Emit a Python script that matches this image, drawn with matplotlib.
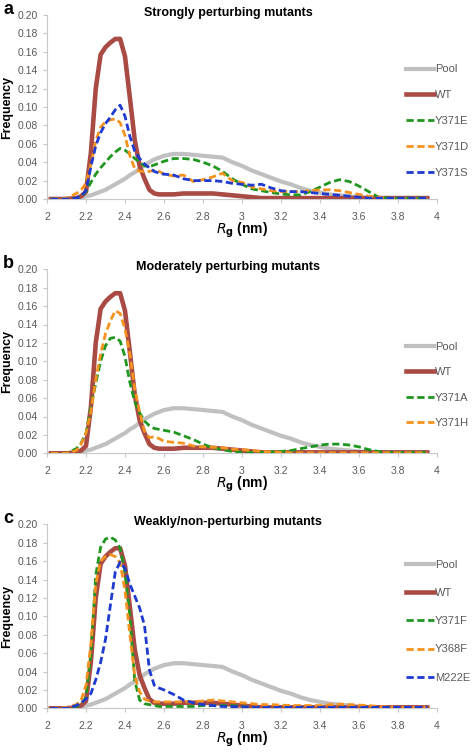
import matplotlib
matplotlib.use("Agg")
import matplotlib.pyplot as plt
import numpy as np

plt.rcParams['font.family'] = ['Liberation Sans', 'DejaVu Sans']

# common Rg grid (nm)
rg = [2.02, 2.10, 2.15, 2.175, 2.20, 2.225, 2.25, 2.275, 2.30, 2.325, 2.35, 2.375,
      2.40, 2.425, 2.45, 2.475, 2.50, 2.525, 2.55, 2.575, 2.60, 2.65, 2.70, 2.75,
      2.80, 2.85, 2.90, 2.95, 3.00, 3.05, 3.10, 3.15, 3.20, 3.25, 3.30, 3.35, 3.40,
      3.45, 3.50, 3.55, 3.60, 3.65, 3.70, 3.75, 3.80, 3.85, 3.90, 3.95]

pool = [0, 0, 0, 0.001, 0.003, 0.004, 0.006, 0.008, 0.010, 0.013, 0.016, 0.019,
        0.022, 0.026, 0.029, 0.033, 0.037, 0.040, 0.043, 0.045, 0.047, 0.049, 0.049, 0.048,
        0.047, 0.046, 0.045, 0.040, 0.036, 0.031, 0.027, 0.023, 0.019, 0.016, 0.012, 0.009, 0.007,
        0.005, 0.004, 0.003, 0.002, 0.001, 0.001, 0.0005, 0.0005, 0.0005, 0.0005, 0.0005]

wt = [0, 0, 0.001, 0.003, 0.008, 0.050, 0.120, 0.157, 0.165, 0.170, 0.174, 0.174,
      0.155, 0.110, 0.064, 0.036, 0.022, 0.010, 0.006, 0.005, 0.005, 0.005, 0.006, 0.006,
      0.006, 0.006, 0.005, 0.004, 0.003, 0.002, 0.001, 0.001, 0.001, 0.001, 0.001, 0.001, 0.001,
      0.001, 0.001, 0.001, 0.001, 0.001, 0.001, 0.001, 0.001, 0.001, 0.001, 0.001]

# panel a
y371e = [0, 0, 0.001, 0.003, 0.008, 0.018, 0.027, 0.034, 0.040, 0.046, 0.051, 0.055,
         0.053, 0.049, 0.044, 0.040, 0.036, 0.035, 0.037, 0.039, 0.041, 0.044, 0.044, 0.043,
         0.040, 0.036, 0.030, 0.022, 0.016, 0.011, 0.009, 0.007, 0.0055, 0.0045, 0.0045, 0.008, 0.013,
         0.018, 0.021, 0.019, 0.014, 0.008, 0.002, 0.001, 0.001, 0.001, 0.001, 0.001]
y371d = [0, 0.001, 0.006, 0.010, 0.017, 0.038, 0.063, 0.078, 0.084, 0.086, 0.087, 0.083,
         0.069, 0.047, 0.033, 0.030, 0.030, 0.030, 0.031, 0.030, 0.027, 0.025, 0.026, 0.019,
         0.021, 0.024, 0.028, 0.020, 0.018, 0.013, 0.011, 0.009, 0.008, 0.008, 0.008, 0.009, 0.010,
         0.010, 0.009, 0.007, 0.005, 0.003, 0.002, 0.001, 0.001, 0.001, 0.001, 0.001]
y371s = [0, 0, 0.001, 0.003, 0.009, 0.035, 0.058, 0.072, 0.082, 0.089, 0.097, 0.102,
         0.090, 0.068, 0.052, 0.044, 0.038, 0.034, 0.030, 0.028, 0.027, 0.026, 0.022, 0.020,
         0.020, 0.020, 0.019, 0.017, 0.016, 0.015, 0.016, 0.012, 0.009, 0.008, 0.008, 0.007, 0.006,
         0.005, 0.004, 0.003, 0.002, 0.001, 0.001, 0.001, 0.001, 0.001, 0.001, 0.001]

# panel b
y371a = [0, 0, 0.005, 0.011, 0.022, 0.050, 0.076, 0.100, 0.117, 0.125, 0.126, 0.122,
         0.105, 0.077, 0.056, 0.044, 0.035, 0.030, 0.027, 0.026, 0.025, 0.023, 0.019, 0.015,
         0.010, 0.006, 0.004, 0.002, 0.001, 0.001, 0.001, 0.0015, 0.002, 0.003, 0.005, 0.007, 0.009,
         0.010, 0.010, 0.009, 0.007, 0.004, 0.002, 0.001, 0.001, 0.001, 0.001, 0.001]
y371h = [0, 0, 0.003, 0.010, 0.022, 0.045, 0.080, 0.108, 0.130, 0.144, 0.155, 0.152,
         0.135, 0.108, 0.070, 0.045, 0.024, 0.017, 0.018, 0.016, 0.013, 0.012, 0.011, 0.008,
         0.007, 0.0065, 0.006, 0.0045, 0.004, 0.003, 0.002, 0.0015, 0.001, 0.0005, 0.0005, 0.0005, 0.0005,
         0.0005, 0.0005, 0.0005, 0.0005, 0.0005, 0.0005, 0.0005, 0.0005, 0.0005, 0.0005, 0.0005]

# panel c
y371f = [0, 0, 0.002, 0.005, 0.012, 0.058, 0.145, 0.175, 0.184, 0.186, 0.183, 0.174,
         0.148, 0.100, 0.030, 0.009, 0.005, 0.004, 0.003, 0.002, 0.002, 0.002, 0.002, 0.002,
         0.003, 0.003, 0.003, 0.003, 0.002, 0.001, 0.001, 0.001, 0.001, 0.001, 0.001, 0.001, 0.001,
         0.001, 0.001, 0.001, 0.001, 0.001, 0.001, 0.001, 0.001, 0.001, 0.001, 0.001]
y368f = [0, 0.001, 0.004, 0.009, 0.025, 0.070, 0.135, 0.160, 0.165, 0.167, 0.165, 0.158,
         0.128, 0.080, 0.035, 0.018, 0.010, 0.008, 0.007, 0.007, 0.007, 0.007, 0.007, 0.007,
         0.008, 0.009, 0.008, 0.007, 0.006, 0.005, 0.004, 0.004, 0.0035, 0.003, 0.003, 0.003, 0.003,
         0.004, 0.0045, 0.004, 0.0035, 0.003, 0.002, 0.0015, 0.001, 0.001, 0.001, 0.001]
m222e = [0, 0, 0.003, 0.006, 0.010, 0.016, 0.031, 0.050, 0.075, 0.112, 0.148, 0.159,
         0.152, 0.135, 0.122, 0.109, 0.090, 0.042, 0.025, 0.022, 0.020, 0.015, 0.009, 0.006,
         0.004, 0.003, 0.002, 0.0018, 0.0015, 0.001, 0.001, 0.001, 0.001, 0.001, 0.001, 0.001, 0.001,
         0.001, 0.001, 0.001, 0.001, 0.001, 0.001, 0.001, 0.001, 0.001, 0.001, 0.001]

GRAY = '#c0c0c0'
RED = '#a94a45'
GREEN = '#1f961f'
ORANGE = '#f6921e'
BLUE = '#1f3ad1'
TXT = '#595959'
DASH = (0, (2.6, 1.3))

# (letter, title, baseline px, mutants, legend first-row px, legend row spacing)
panels = [
    ('a', 'Strongly perturbing mutants', 199,
     [('Y371E', y371e, GREEN), ('Y371D', y371d, ORANGE), ('Y371S', y371s, BLUE)], 71, 1.42),
    ('b', 'Moderately perturbing mutants', 453.3,
     [('Y371A', y371a, GREEN), ('Y371H', y371h, ORANGE)], 348, 1.4),
    ('c', 'Weakly/non-perturbing mutants', 708.3,
     [('Y371F', y371f, GREEN), ('Y368F', y368f, ORANGE), ('M222E', m222e, BLUE)], 566, 1.65),
]

W, H = 472, 752
fig = plt.figure(figsize=(W / 100, H / 100), dpi=100)

for letter, title, y0px, mutants, leg_px, spacing in panels:
    ax = fig.add_axes([47 / W, 1 - y0px / H, 390 / W, 184 / H])
    ax.plot(rg, pool, color=GRAY, lw=3, label='Pool', zorder=2)
    ax.plot(rg, wt, color=RED, lw=3.3, label='WT', zorder=3)
    for name, vals, col in mutants:
        ax.plot(rg, vals, color=col, lw=2, linestyle=DASH, label=name, zorder=4)

    ax.set_xlim(2, 4)
    ax.set_ylim(0, 0.2)
    ax.set_xticks(np.arange(2, 4.01, 0.2))
    ax.set_xticklabels(['2', '2.2', '2.4', '2.6', '2.8', '3', '3.2', '3.4', '3.6', '3.8', '4'])
    ax.set_yticks(np.arange(0, 0.201, 0.02))
    ax.set_yticklabels(['%.2f' % v for v in np.arange(0, 0.201, 0.02)])
    for s in ['top', 'right']:
        ax.spines[s].set_visible(False)
    for s in ['left', 'bottom']:
        ax.spines[s].set_color('#c8c8c8')
        ax.spines[s].set_linewidth(0.8)
    ax.tick_params(axis='both', colors='#c8c8c8', labelcolor=TXT, labelsize=7.5,
                   length=3, width=0.8, direction='out')
    ax.tick_params(axis='x', pad=6)
    ax.set_ylabel('Frequency', fontsize=9, fontweight='bold', labelpad=3)
    ax.text(0.5, -0.17, r'$R_\mathbf{g}$ (nm)', transform=ax.transAxes, ha='center', va='center',
            fontsize=10, fontweight='bold')
    ax.text(0.464, 1 + 2 / 184, title, transform=ax.transAxes, ha='center', va='center',
            fontsize=9, fontweight='bold')
    fig.text(3 / W, 1 - (y0px - 190) / H, letter, fontsize=13, fontweight='bold', va='center')

    leg = ax.legend(loc='upper left', bbox_to_anchor=(406 / W, 1 - (leg_px - 6.5) / H),
                    bbox_transform=fig.transFigure, frameon=False, fontsize=8,
                    handlelength=2.5, handletextpad=0.1, labelspacing=spacing,
                    borderpad=0, borderaxespad=0)
    for t in leg.get_texts():
        t.set_color(TXT)

fig.savefig('out.png', dpi=100)
